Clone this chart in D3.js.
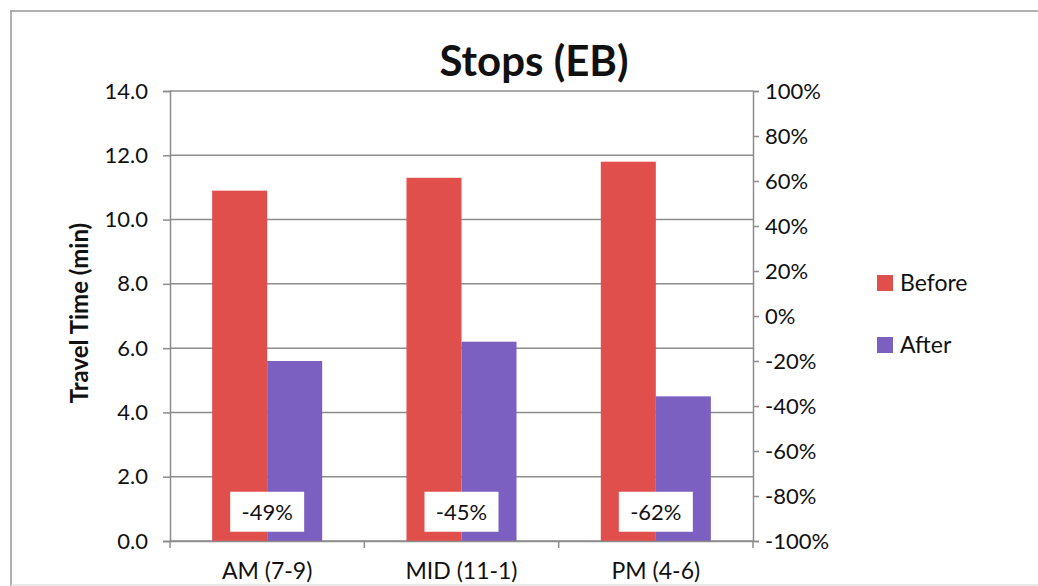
<!DOCTYPE html>
<html>
<head>
<meta charset="utf-8">
<script src="https://cdn.jsdelivr.net/npm/d3@7"></script>
<style>
  html, body { margin: 0; padding: 0; background: #ffffff; }
  svg { display: block; }
  text { font-family: Lato, "Open Sans", sans-serif; fill: #111; }
</style>
</head>
<body>
<script>
// Travel time through stops, eastbound, before and after
const categories = ["AM (7-9)", "MID (11-1)", "PM (4-6)"];
const seriesNames = ["Before", "After"];
const beforeValues = [10.9, 11.3, 11.8];
const afterValues = [5.6, 6.2, 4.5];
const leftTicks = [0, 2, 4, 6, 8, 10, 12, 14];
const rightTicks = [-100, -80, -60, -40, -20, 0, 20, 40, 60, 80, 100];
const colors = ["#e04f4b", "#7b60c2"];

const W = 1038, H = 586;
const plot = { left: 170, right: 753, top: 91, bottom: 541 };
const labelSize = "22px";

const svg = d3.select("body").append("svg").attr("width", W).attr("height", H);

// outer chart frame
svg.append("path")
  .attr("d", `M11,586 L11,11 L1038,11`)
  .attr("fill", "none").attr("stroke", "#b0b0b0").attr("stroke-width", 2);
svg.append("line").attr("x1", 11).attr("x2", 1038).attr("y1", 585).attr("y2", 585)
  .attr("stroke", "#e0e0e0").attr("stroke-width", 1.5);

const x0 = d3.scaleBand().domain(categories).range([plot.left, plot.right]).padding(0);
const x1 = d3.scaleBand().domain(seriesNames).range([0, x0.bandwidth()])
  .paddingInner(0).paddingOuter(0.766);
const y = d3.scaleLinear().domain([0, 14]).range([plot.bottom, plot.top]);
const yPct = d3.scaleLinear().domain([-100, 100]).range([plot.bottom, plot.top]);

// horizontal gridlines
svg.append("g").selectAll("line").data(leftTicks).join("line")
  .attr("x1", plot.left).attr("x2", plot.right)
  .attr("y1", d => y(d)).attr("y2", d => y(d))
  .attr("stroke", "#8c8c8c").attr("stroke-width", 1.5);

// bars
const rows = categories.map((c, i) => ({ cat: c, values: [beforeValues[i], afterValues[i]] }));
const groups = svg.append("g").selectAll("g").data(rows).join("g")
  .attr("transform", d => `translate(${x0(d.cat)},0)`);
groups.selectAll("rect")
  .data(d => d.values.map((v, j) => ({ key: seriesNames[j], v, j })))
  .join("rect")
  .attr("x", d => x1(d.key))
  .attr("width", x1.bandwidth())
  .attr("y", d => y(d.v))
  .attr("height", d => y(0) - y(d.v))
  .attr("fill", d => colors[d.j]);

// left axis
const leftAxis = d3.axisLeft(y).tickValues(leftTicks).tickFormat(d3.format(".1f"))
  .tickSize(7).tickPadding(15);
const gl = svg.append("g").attr("transform", `translate(${plot.left},0)`).call(leftAxis);
gl.select(".domain").attr("stroke", "#8c8c8c").attr("stroke-width", 1.5);
gl.selectAll(".tick line").attr("stroke", "#8c8c8c").attr("stroke-width", 1.5);
gl.selectAll(".tick text").style("font-size", labelSize).attr("fill", "#111");

// right axis
const rightAxis = d3.axisRight(yPct).tickValues(rightTicks).tickFormat(d => d + "%")
  .tickSize(6).tickPadding(6);
const gr = svg.append("g").attr("transform", `translate(${plot.right},0)`).call(rightAxis);
gr.select(".domain").attr("stroke", "#8c8c8c").attr("stroke-width", 1.5);
gr.selectAll(".tick line").attr("stroke", "#8c8c8c").attr("stroke-width", 1.5);
gr.selectAll(".tick text").style("font-size", labelSize).attr("fill", "#111");

// category axis
const bottomAxis = d3.axisBottom(x0).tickSize(0).tickPadding(22);
const gb = svg.append("g").attr("transform", `translate(0,${plot.bottom})`).call(bottomAxis);
gb.select(".domain").attr("stroke", "#8c8c8c").attr("stroke-width", 1.5);
gb.selectAll(".tick text").style("font-size", "23px").attr("fill", "#111");
// category boundary ticks
svg.append("g").selectAll("line")
  .data(categories.map(c => x0(c)).concat([plot.right]))
  .join("line")
  .attr("x1", d => d).attr("x2", d => d)
  .attr("y1", plot.bottom).attr("y2", plot.bottom + 7)
  .attr("stroke", "#8c8c8c").attr("stroke-width", 1.5);

// percent change labels
const labels = svg.append("g").selectAll("g").data(rows).join("g")
  .attr("transform", d => `translate(${x0(d.cat) + x0.bandwidth() / 2},${yPct(-87)})`);
labels.append("rect")
  .attr("x", -37).attr("y", -20).attr("width", 74).attr("height", 40)
  .attr("fill", "#ffffff");
labels.append("text")
  .attr("text-anchor", "middle").attr("dy", "0.36em")
  .style("font-size", labelSize)
  .text(d => Math.round((d.values[1] / d.values[0] - 1) * 100) + "%");

// title
svg.append("text")
  .attr("x", 534).attr("y", 76)
  .attr("text-anchor", "middle")
  .style("font-size", "42px").style("font-weight", "bold")
  .text("Stops (EB)");

// y-axis title
svg.append("text")
  .attr("transform", `translate(88,313) rotate(-90)`)
  .attr("text-anchor", "middle")
  .style("font-size", "24px").style("font-weight", "bold")
  .text("Travel Time (min)");

// legend
const legend = svg.append("g").selectAll("g").data(seriesNames).join("g")
  .attr("transform", (d, i) => `translate(877,${283 + i * 62})`);
legend.append("rect")
  .attr("x", 0).attr("y", -8).attr("width", 16).attr("height", 16)
  .attr("fill", (d, i) => colors[i]);
legend.append("text")
  .attr("x", 23).attr("dy", "0.36em")
  .style("font-size", "23px")
  .text(d => d);
</script>
</body>
</html>
